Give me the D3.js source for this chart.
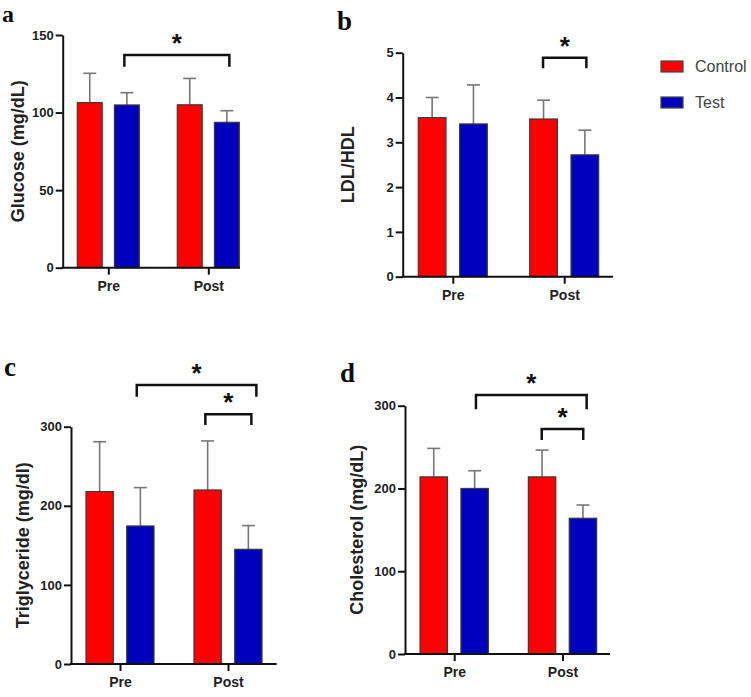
<!DOCTYPE html>
<html>
<head>
<meta charset="utf-8">
<script src="https://cdn.jsdelivr.net/npm/d3@7"></script>
<style>
  body { margin: 0; background: #fff; }
  svg { display: block; }
</style>
</head>
<body>
<svg width="751" height="697"></svg>
<script>
const svg = d3.select("svg");

const groups = ["Pre", "Post"];
const series = ["Control", "Test"];
const colors = { Control: "#ff0000", Test: "#0000bd" };

/* ==========================
   DATA (mean and SD per group)
========================== */

const glucoseControl = [106.4, 105.0];
const glucoseControlSd = [18.9, 17.0];
const glucoseTest = [104.9, 93.7];
const glucoseTestSd = [7.9, 7.5];

const ldlControl = [3.55, 3.52];
const ldlControlSd = [0.45, 0.42];
const ldlTest = [3.41, 2.72];
const ldlTestSd = [0.87, 0.55];

const tgControl = [218, 220];
const tgControlSd = [63, 62];
const tgTest = [174.5, 145];
const tgTestSd = [48.5, 30];

const cholControl = [214, 214];
const cholControlSd = [34.4, 32.4];
const cholTest = [200, 164];
const cholTestSd = [21.4, 16];

const glucoseTicks = [0, 50, 100, 150];
const ldlTicks = [0, 1, 2, 3, 4, 5];
const tgTicks = [0, 100, 200, 300];
const cholTicks = [0, 100, 200, 300];

// significance brackets: [group, series] -> [group, series]
const glucoseSig = [[["Pre", "Test"], ["Post", "Test"]]];
const ldlSig = [[["Post", "Control"], ["Post", "Test"]]];
const tgSig = [[["Pre", "Test"], ["Post", "Test"]], [["Post", "Control"], ["Post", "Test"]]];
const cholSig = [[["Pre", "Test"], ["Post", "Test"]], [["Post", "Control"], ["Post", "Test"]]];

/* ==========================
   PANELS
========================== */

const panels = [
  {
    letter: "a", label: "Glucose (mg/dL)",
    control: glucoseControl, controlSd: glucoseControlSd, test: glucoseTest, testSd: glucoseTestSd,
    ticks: glucoseTicks, sig: glucoseSig,
    left: 62.7, right: 240, top: 35, bottom: 267.7, centers: [108.3, 208.3], groupWidth: 62,
    letterX: 2, letterY: 21.5, letterSize: 24, labelX: 18,
    brackets: [{ y: 55, leg: 11.7, dx0: -2.5, dx1: 2.5 }]
  },
  {
    letter: "b", label: "LDL/HDL",
    control: ldlControl, controlSd: ldlControlSd, test: ldlTest, testSd: ldlTestSd,
    ticks: ldlTicks, sig: ldlSig,
    left: 402.7, right: 613, top: 52.7, bottom: 276.7, centers: [452.8, 564.2], groupWidth: 69,
    letterX: 337, letterY: 30, letterSize: 27, labelX: 348,
    brackets: [{ y: 57.7, leg: 10.6, dx0: -0.5, dx1: 1.5 }]
  },
  {
    letter: "c", label: "Triglyceride (mg/dl)",
    control: tgControl, controlSd: tgControlSd, test: tgTest, testSd: tgTestSd,
    ticks: tgTicks, sig: tgSig,
    left: 71, right: 276.7, top: 426.7, bottom: 664, centers: [120, 228], groupWidth: 68,
    letterX: 4, letterY: 376, letterSize: 27, labelX: 23,
    brackets: [{ y: 385, leg: 11.7, dx0: -3.6, dx1: 8 }, { y: 414.3, leg: 10.7, dx0: -2.3, dx1: 3 }]
  },
  {
    letter: "d", label: "Cholesterol (mg/dL)",
    control: cholControl, controlSd: cholControlSd, test: cholTest, testSd: cholTestSd,
    ticks: cholTicks, sig: cholSig,
    left: 405, right: 610, top: 405.7, bottom: 654, centers: [454.2, 562.5], groupWidth: 68.3,
    letterX: 340, letterY: 382, letterSize: 27, labelX: 357,
    brackets: [{ y: 395, leg: 14.3, dx0: 1.3, dx1: 3.7 }, { y: 429, leg: 11, dx0: -0.3, dx1: 0.3 }]
  }
];

function drawPanel(p) {
  const g = svg.append("g");

  const y = d3.scaleLinear()
    .domain([0, d3.max(p.ticks)])
    .range([p.bottom, p.top]);

  const x = d3.scalePoint()
    .domain(groups)
    .range(p.centers);

  const xs = d3.scaleBand()
    .domain(series)
    .range([-p.groupWidth / 2, p.groupWidth / 2])
    .paddingInner(0.33);

  const rows = [];
  groups.forEach((grp, i) => {
    rows.push({ group: grp, series: "Control", mean: p.control[i], sd: p.controlSd[i] });
    rows.push({ group: grp, series: "Test", mean: p.test[i], sd: p.testSd[i] });
  });

  const barX = d => x(d.group) + xs(d.series);
  const barC = (grp, s) => x(grp) + xs(s) + xs.bandwidth() / 2;

  // error bars (upper only)
  const eb = g.selectAll(".err").data(rows).join("g").attr("class", "err")
    .attr("stroke", "#777").attr("stroke-width", 1.6);
  eb.append("line")
    .attr("x1", d => barC(d.group, d.series))
    .attr("x2", d => barC(d.group, d.series))
    .attr("y1", d => y(d.mean))
    .attr("y2", d => y(d.mean + d.sd));
  eb.append("line")
    .attr("x1", d => barC(d.group, d.series) - 6.5)
    .attr("x2", d => barC(d.group, d.series) + 6.5)
    .attr("y1", d => y(d.mean + d.sd))
    .attr("y2", d => y(d.mean + d.sd));

  // bars
  g.selectAll(".bar").data(rows).join("rect").attr("class", "bar")
    .attr("x", barX)
    .attr("width", xs.bandwidth())
    .attr("y", d => y(d.mean))
    .attr("height", d => y(0) - y(d.mean))
    .attr("fill", d => colors[d.series])
    .attr("stroke", "#3a3a3a")
    .attr("stroke-width", 1.2);

  // y axis
  const ya = g.append("g")
    .attr("transform", `translate(${p.left},0)`)
    .call(d3.axisLeft(y).tickValues(p.ticks).tickFormat(d3.format("d"))
      .tickSize(7).tickSizeOuter(0).tickPadding(2));
  ya.select(".domain").attr("stroke", "#111").attr("stroke-width", 2);
  ya.selectAll(".tick line").attr("stroke", "#111").attr("stroke-width", 2);
  ya.selectAll(".tick text")
    .attr("fill", "#222")
    .attr("font-family", "Liberation Sans, Arial, sans-serif")
    .attr("font-weight", "bold")
    .attr("font-size", 13);

  // x axis
  const xa = g.append("g")
    .attr("transform", `translate(0,${p.bottom})`)
    .call(d3.axisBottom(x).tickSize(7).tickSizeOuter(0).tickPadding(6));
  xa.select(".domain").remove();
  xa.append("line")
    .attr("x1", p.left - 1).attr("x2", p.right)
    .attr("stroke", "#111").attr("stroke-width", 2);
  xa.selectAll(".tick line").attr("stroke", "#111").attr("stroke-width", 2);
  xa.selectAll(".tick text")
    .attr("fill", "#222")
    .attr("font-family", "Liberation Sans, Arial, sans-serif")
    .attr("font-weight", "bold")
    .attr("font-size", 14);

  // y label
  g.append("text")
    .attr("transform", `translate(${p.labelX},${(p.top + p.bottom) / 2}) rotate(-90)`)
    .attr("text-anchor", "middle")
    .attr("dominant-baseline", "central")
    .attr("fill", "#222")
    .attr("font-family", "Liberation Sans, Arial, sans-serif")
    .attr("font-weight", "bold")
    .attr("font-size", 18)
    .text(p.label);

  // panel letter
  g.append("text")
    .attr("x", p.letterX)
    .attr("y", p.letterY)
    .attr("fill", "#0d0d0d")
    .attr("font-family", "Liberation Serif, Times New Roman, serif")
    .attr("font-weight", "bold")
    .attr("font-size", p.letterSize)
    .text(p.letter);

  // significance brackets
  p.sig.forEach((s, i) => {
    const b = p.brackets[i];
    const x0 = barC(s[0][0], s[0][1]) + b.dx0;
    const x1 = barC(s[1][0], s[1][1]) + b.dx1;
    g.append("path")
      .attr("d", `M${x0},${b.y + b.leg}V${b.y}H${x1}V${b.y + b.leg}`)
      .attr("fill", "none")
      .attr("stroke", "#111")
      .attr("stroke-width", 2.5);
    g.append("text")
      .attr("x", (x0 + x1) / 2)
      .attr("y", b.y - 3)
      .attr("text-anchor", "middle")
      .attr("fill", "#111")
      .attr("font-family", "Liberation Sans, Arial, sans-serif")
      .attr("font-weight", "bold")
      .attr("font-size", 26)
      .text("*");
  });
}

panels.forEach(drawPanel);

/* ==========================
   LEGEND
========================== */

const legend = svg.append("g").attr("transform", "translate(661,61)");
series.forEach((s, i) => {
  const row = legend.append("g").attr("transform", `translate(0,${i * 36})`);
  row.append("rect")
    .attr("width", 22).attr("height", 11)
    .attr("fill", colors[s])
    .attr("stroke", "#444").attr("stroke-width", 1.2);
  row.append("text")
    .attr("x", 34).attr("y", 5.5)
    .attr("dominant-baseline", "central")
    .attr("fill", "#444")
    .attr("font-family", "Liberation Sans, Arial, sans-serif")
    .attr("font-size", 16)
    .text(s);
});
</script>
</body>
</html>
